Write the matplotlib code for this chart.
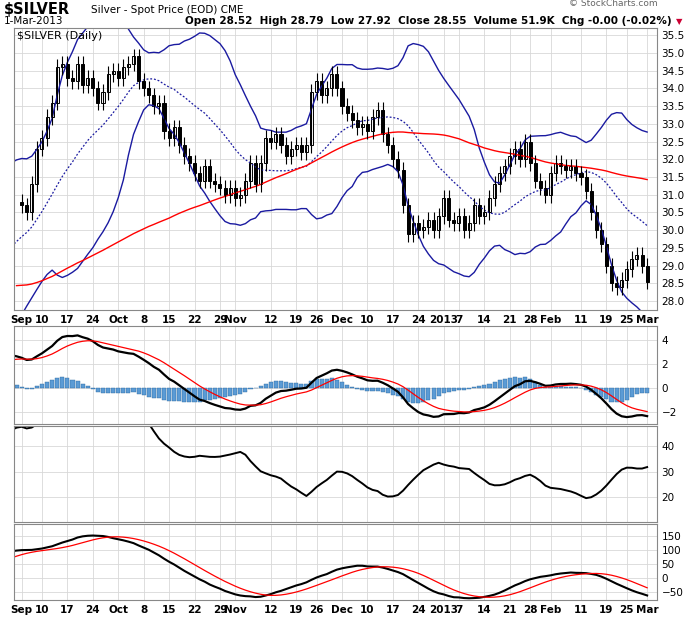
import matplotlib.pyplot as plt
import numpy as np
import pandas as pd

# closes before the visible window (warm-up for indicators)
pre_close = [30.0, 29.6, 29.2, 28.9, 28.6, 28.4, 28.7, 28.5, 28.3, 28.1,
             28.4, 28.6, 28.9, 28.5, 28.2, 28.0, 27.8, 28.1, 28.3, 28.2,
             28.3, 28.5, 28.6, 28.7, 28.4, 28.6, 28.9, 28.7, 28.2, 27.9,
             27.3, 27.1, 27.4, 27.2, 27.5, 27.6, 27.4, 27.1, 27.0, 27.1,
             27.3, 27.2, 27.0, 27.5, 27.6, 27.9, 27.8, 27.6, 27.3, 27.5,
             27.7, 27.9, 27.6, 27.4, 27.8, 27.9, 28.0, 27.7, 27.8, 27.9,
             28.0, 28.1, 28.2, 28.0, 28.2, 28.3, 28.7, 29.5, 29.8, 30.0,
             30.3, 30.2, 30.3, 30.5, 30.9, 30.8, 31.1, 31.0, 30.9, 30.8]

# visible closes, Sep 4 2012 .. Mar 1 2013
close = [30.7, 30.5, 31.3, 32.3,
         32.6, 33.2, 33.6, 34.6, 34.7,
         34.3, 34.2, 34.7, 34.1, 34.3,
         34.0, 33.6, 33.9, 34.4, 34.5,
         34.3, 34.6, 34.7, 34.9, 34.2,
         34.0, 33.8, 33.5, 33.6, 32.8,
         32.6, 32.9, 32.4, 32.1, 31.9,
         31.6, 31.4, 31.8, 31.4, 31.3,
         31.2, 31.0, 31.2, 30.9, 31.0,
         31.4, 31.9, 31.3, 31.9, 32.6,
         32.5, 32.7, 32.4, 32.1, 32.3,
         32.4, 32.2, 32.4, 33.9,
         34.2, 33.8, 34.0, 34.4, 34.0,
         33.5, 33.3, 33.1, 32.9, 33.0,
         32.8, 33.2, 33.4, 32.7, 32.4,
         32.0, 31.7, 30.7, 29.9, 30.2,
         30.0, 30.1, 30.3, 30.0,
         30.4, 30.9, 30.3, 30.2,
         30.4, 30.0, 30.2, 30.7, 30.4,
         30.5, 30.9, 31.3, 31.6, 31.8,
         32.1, 32.3, 32.0, 32.5,
         31.9, 31.4, 31.2, 31.0, 31.6,
         31.9, 31.8, 31.7, 31.8, 31.6,
         31.5, 31.1, 30.5, 30.0, 29.6,
         29.0, 28.5, 28.4, 28.6,
         28.9, 29.2, 29.3, 29.0, 28.55]

holidays = ["2012-11-22", "2012-12-25", "2013-01-01", "2013-01-21", "2013-02-18"]
dates = pd.bdate_range("2012-09-04", "2013-03-01")
dates = dates[~dates.isin(pd.to_datetime(holidays))]

tick_dates = ["2012-09-04", "2012-09-10", "2012-09-17", "2012-09-24", "2012-10-01", "2012-10-08",
              "2012-10-15", "2012-10-22", "2012-10-29", "2012-11-01", "2012-11-12", "2012-11-19",
              "2012-11-26", "2012-12-03", "2012-12-10", "2012-12-17", "2012-12-24", "2013-01-02",
              "2013-01-07", "2013-01-14", "2013-01-22", "2013-01-28", "2013-02-01", "2013-02-11",
              "2013-02-19", "2013-02-25", "2013-03-01"]
tick_labels = ["Sep", "10", "17", "24", "Oct", "8", "15", "22", "29", "Nov", "12", "19", "26",
               "Dec", "10", "17", "24", "2013", "7", "14", "21", "28", "Feb", "11", "19", "25", "Mar"]

allc = pd.Series(pre_close + close, dtype=float)
npre = len(pre_close)
x_all = np.arange(len(allc)) - npre
opn = allc.shift(1).fillna(allc[0])
high = np.maximum(opn, allc) + 0.22
low = np.minimum(opn, allc) - 0.22

sma20 = allc.rolling(20).mean()
sd20 = allc.rolling(20).std(ddof=0)
upper, lower = sma20 + 2 * sd20, sma20 - 2 * sd20
sma_long = allc.rolling(80).mean()

e12 = allc.ewm(span=12, adjust=False).mean()
e26 = allc.ewm(span=26, adjust=False).mean()
ppo = (e12 - e26) / e26 * 100
sig = ppo.ewm(span=9, adjust=False).mean()

# ADX 14
pc = allc.shift(1)
tr = pd.concat([pd.Series(high - low), (pd.Series(high) - pc).abs(), (pd.Series(low) - pc).abs()], axis=1).max(axis=1)
up = pd.Series(high).diff()
dn = -pd.Series(low).diff()
pdm = np.where((up > dn) & (up > 0), up, 0.0)
mdm = np.where((dn > up) & (dn > 0), dn, 0.0)
atr = tr.ewm(alpha=1 / 14, adjust=False).mean()
pdi = 100 * pd.Series(pdm).ewm(alpha=1 / 14, adjust=False).mean() / atr
mdi = 100 * pd.Series(mdm).ewm(alpha=1 / 14, adjust=False).mean() / atr
dx = 100 * (pdi - mdi).abs() / (pdi + mdi)
adx = dx.ewm(alpha=1 / 14, adjust=False).mean()

# KST
def roc(n):
    return allc.pct_change(n) * 100
kst = (roc(10).rolling(10).mean() + 2 * roc(15).rolling(10).mean()
       + 3 * roc(20).rolling(10).mean() + 4 * roc(30).rolling(15).mean())
kst_sig = kst.rolling(9).mean()

fig = plt.figure(figsize=(7, 6.39), dpi=100)
L, W = 0.02, 0.919
ax1 = fig.add_axes([L, 0.515, W, 0.441])
ax2 = fig.add_axes([L, 0.336, W, 0.154], sharex=ax1)
ax3 = fig.add_axes([L, 0.183, W, 0.15], sharex=ax1)
ax4 = fig.add_axes([L, 0.061, W, 0.119], sharex=ax1)

navy = "#1a1aa0"
ax1.plot(x_all, upper, color=navy, lw=1)
ax1.plot(x_all, lower, color=navy, lw=1)
ax1.plot(x_all, sma20, color=navy, lw=0.9, ls=(0, (1.5, 1.5)))
ax1.plot(x_all, sma_long, color="red", lw=1)
vis = x_all >= 0
for xi, o, c, h, l in zip(x_all[vis], opn[vis], allc[vis], high[vis], low[vis]):
    ax1.vlines(xi, l, h, color="black", lw=0.8)
    body = max(abs(c - o), 0.03)
    ax1.bar(xi, body, bottom=min(o, c), width=0.6,
            color="black" if c < o else "white", edgecolor="black", lw=0.7)
ax1.set_ylim(27.75, 35.7)
ax1.set_yticks(np.arange(28.0, 35.51, 0.5))
ax1.set_yticklabels([f"{v:.1f}" for v in np.arange(28.0, 35.51, 0.5)])
ax1.text(0.005, 0.99, "$SILVER (Daily)", transform=ax1.transAxes, va="top", fontsize=8)

ax2.bar(x_all, ppo - sig, width=0.8, color="#5b9bd5", edgecolor="#2c6aa0", lw=0.3)
ax2.plot(x_all, ppo, color="black", lw=1.6)
ax2.plot(x_all, sig, color="red", lw=0.9)
ax2.set_ylim(-3, 5.2)
ax2.set_yticks([-2, 0, 2, 4])

ax3.plot(x_all, adx, color="black", lw=1.4)
ax3.set_ylim(10, 48)
ax3.set_yticks([20, 30, 40])

ax4.plot(x_all, kst, color="black", lw=1.5)
ax4.plot(x_all, kst_sig, color="red", lw=0.9)
ax4.set_ylim(-80, 195)
ax4.set_yticks([-50, 0, 50, 100, 150])

tpos = [dates.get_loc(pd.Timestamp(d)) for d in tick_dates]
for ax in (ax1, ax2, ax3, ax4):
    ax.yaxis.tick_right()
    ax.tick_params(axis="y", labelsize=7.5, length=0, pad=3)
    ax.tick_params(axis="x", labelsize=7.5, length=0)
    ax.grid(True, color="#d8d8d8", lw=0.6)
    ax.set_axisbelow(True)
    for s in ax.spines.values():
        s.set_color("#888888")
ax1.set_xlim(-1.5, len(close) + 1)
ax1.set_xticks(tpos)
ax1.set_xticklabels(tick_labels)
for ax in (ax2, ax3):
    plt.setp(ax.get_xticklabels(), visible=False)
ax4.set_xticks(tpos)
ax4.set_xticklabels(tick_labels)
for lab in ax1.get_xticklabels() + ax4.get_xticklabels():
    lab.set_fontweight("bold")

fig.text(0.005, 0.985, "$SILVER", fontsize=10.5, fontweight="bold", va="center")
fig.text(0.13, 0.985, "Silver - Spot Price (EOD) CME", fontsize=7.5, va="center")
fig.text(0.005, 0.967, "1-Mar-2013", fontsize=7.5, va="center")
fig.text(0.94, 0.994, "© StockCharts.com", fontsize=6.5, va="center", ha="right", color="#666666")
fig.text(0.96, 0.967, "Open 28.52  High 28.79  Low 27.92  Close 28.55  Volume 51.9K  Chg -0.00 (-0.02%)",
         fontsize=7.5, va="center", ha="right", fontweight="bold")
fig.text(0.975, 0.967, "▼", color="#cc0033", fontsize=6, va="center", ha="right")

fig.savefig("out.png", dpi=100)
